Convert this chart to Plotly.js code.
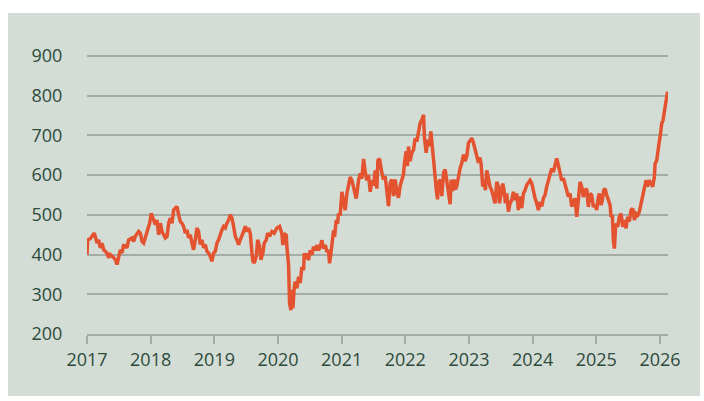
<!DOCTYPE html>
<html>
<head>
<meta charset="utf-8">
<script src="https://cdn.plot.ly/plotly-3.0.1.min.js"></script>
<style>
  html, body { margin: 0; padding: 0; background: #ffffff; }
  #chart { position: absolute; left: 8px; top: 13px; width: 692px; height: 383px; }
</style>
</head>
<body>
<div id="chart"></div>
<script>
// Decimal year of each observation
const years = [
2017.000,2017.010,2017.052,2017.079,2017.115,2017.157,2017.183,2017.209,2017.236,2017.262,
2017.314,2017.340,2017.366,2017.419,2017.445,2017.471,2017.497,2017.524,2017.550,2017.576,
2017.628,2017.654,2017.707,2017.733,2017.759,2017.812,2017.838,2017.864,2017.890,2017.942,
2017.984,2018.010,2018.047,2018.073,2018.099,2018.126,2018.152,2018.178,2018.204,2018.230,
2018.257,2018.283,2018.309,2018.335,2018.361,2018.414,2018.440,2018.466,
2018.491,2018.517,2018.544,2018.570,2018.596,2018.622,2018.648,2018.674,2018.701,2018.727,
2018.753,2018.779,2018.805,2018.832,2018.858,2018.884,2018.910,2018.936,2018.962,2018.989,
2019.015,2019.041,2019.067,2019.093,2019.119,2019.146,2019.172,2019.198,2019.224,2019.250,
2019.277,2019.303,2019.329,2019.355,2019.381,2019.407,2019.434,2019.460,2019.486,2019.512,
2019.538,2019.564,2019.591,2019.606,2019.627,2019.659,2019.680,2019.711,2019.732,2019.763,
2019.784,2019.816,2019.837,2019.868,2019.905,2019.941,2019.983,2020.025,
2020.061,2020.077,2020.098,2020.129,2020.140,2020.166,2020.182,2020.203,2020.218,2020.234,
2020.255,2020.271,2020.297,2020.323,2020.349,2020.375,2020.402,2020.412,2020.443,2020.464,
2020.480,2020.506,2020.532,2020.559,2020.585,2020.611,2020.637,2020.663,2020.689,2020.716,
2020.742,2020.768,2020.794,2020.810,2020.831,2020.846,2020.873,2020.888,2020.915,2020.936,
2020.951,2020.977,2021.004,2021.030,2021.056,2021.082,2021.108,2021.134,2021.161,2021.187,
2021.213,2021.229,2021.265,2021.292,2021.318,2021.344,2021.370,2021.396,2021.422,2021.449,
2021.475,2021.501,2021.527,2021.553,2021.569,2021.595,
2021.631,2021.657,2021.684,2021.710,2021.736,2021.762,2021.788,2021.814,2021.841,2021.867,
2021.893,2021.919,2021.945,2021.971,2021.987,2022.013,2022.034,2022.050,2022.076,2022.102,
2022.129,2022.155,2022.181,2022.207,2022.233,2022.259,2022.286,2022.301,2022.328,2022.354,
2022.380,2022.401,2022.427,2022.443,2022.458,2022.485,2022.506,2022.521,2022.547,2022.574,
2022.600,2022.626,2022.652,2022.678,2022.704,2022.720,2022.746,2022.767,2022.788,2022.809,
2022.835,2022.862,2022.888,2022.914,2022.940,2022.966,2022.992,2023.019,2023.045,2023.071,
2023.097,2023.123,2023.149,2023.170,
2023.190,2023.216,2023.237,2023.258,2023.279,2023.305,2023.331,2023.357,2023.383,2023.410,
2023.436,2023.462,2023.478,2023.499,2023.530,2023.551,2023.572,2023.593,2023.619,2023.645,
2023.671,2023.698,2023.724,2023.750,2023.776,2023.802,2023.828,2023.855,2023.881,2023.907,
2023.933,2023.959,2023.986,2024.012,2024.038,2024.064,2024.090,2024.116,2024.143,2024.169,
2024.195,2024.221,2024.247,2024.273,2024.300,2024.326,2024.352,2024.378,2024.404,2024.430,
2024.456,2024.483,2024.509,2024.535,2024.561,2024.587,2024.614,2024.640,2024.666,
2024.692,2024.718,2024.745,2024.771,2024.797,2024.823,2024.849,2024.875,2024.902,2024.928,
2024.954,2024.980,2025.006,2025.032,2025.048,2025.074,2025.095,2025.116,2025.137,2025.163,
2025.190,2025.216,2025.231,2025.252,2025.268,2025.284,2025.305,2025.336,2025.362,2025.389,
2025.415,2025.441,2025.467,2025.493,2025.519,2025.546,2025.572,2025.598,2025.624,2025.650,
2025.676,2025.703,2025.729,2025.755,2025.781,2025.807,2025.828,2025.860,2025.886,2025.912,
2025.923,2025.949,2025.964,2025.985,2026.006,2026.027,2026.048,2026.069,2026.088,2026.103,
2026.118,2026.126
];
const values = [
400,437,440,446,454,429,437,417,429,412,
404,392,400,392,387,375,396,412,404,425,
417,437,442,433,446,458,454,433,429,458,
479,504,487,475,487,450,479,458,450,442,
446,479,492,479,512,521,500,483,
479,471,454,462,442,450,429,412,437,467,
458,425,437,417,425,408,404,396,383,404,
408,429,437,454,462,471,467,479,487,500,
492,471,446,437,425,437,446,458,471,458,
467,454,404,383,379,396,437,421,387,404,
429,437,454,446,458,454,467,471,
453,424,453,449,420,374,277,260,311,265,
318,332,315,344,328,369,361,403,390,403,
386,411,399,420,411,424,411,420,436,415,
424,407,411,378,403,428,461,445,487,478,
503,499,558,533,512,554,574,595,587,570,
558,541,587,604,591,641,608,587,600,558,
587,574,612,566,637,641,
606,589,597,547,522,581,589,547,589,556,
543,573,589,602,631,660,623,672,635,656,
664,693,685,714,731,739,752,693,656,689,
673,710,673,639,614,564,539,581,589,547,
606,614,589,552,527,589,560,589,564,573,
597,618,631,652,635,648,681,689,693,681,
664,652,631,645,
629,571,587,562,612,592,571,562,542,529,
583,571,529,550,579,562,529,554,508,529,
537,558,537,554,512,546,517,554,562,575,
583,587,579,558,542,529,512,533,521,542,
550,571,587,604,617,608,629,642,625,600,
587,592,579,562,546,554,521,529,542,
495,545,583,571,545,562,566,520,554,550,
520,525,512,545,554,525,537,562,566,550,
537,525,495,499,436,415,478,470,495,503,
470,487,466,495,483,512,516,487,503,499,
508,529,541,571,587,571,587,579,571,596,
629,637,663,680,701,730,738,764,785,797,
810,800
];
const yTicks = [200, 300, 400, 500, 600, 700, 800, 900];
const xTicks = [2017, 2018, 2019, 2020, 2021, 2022, 2023, 2024, 2025, 2026];
const xTickLabels = ["2017","2018","2019","2020","2021","2022","2023","2024","2025","2026"];

const trace = {
  x: years, y: values, type: 'scatter', mode: 'lines',
  line: { color: '#e4532f', width: 3.5 },
  hoverinfo: 'skip'
};
const gridColor = '#a3ada5';
const textColor = '#2c4b3b';
const layout = {
  width: 692, height: 383,
  margin: { l: 79, r: 32, t: 41, b: 62 },
  paper_bgcolor: '#d4ddd5', plot_bgcolor: '#d4ddd5',
  showlegend: false,
  font: { family: '"Open Sans", "Noto Sans", sans-serif', size: 18, color: textColor },
  xaxis: {
    type: 'linear', range: [2017, 2026.126],
    tickmode: 'array', tickvals: xTicks, ticktext: xTickLabels,
    showgrid: false, zeroline: false,
    showline: true, linecolor: gridColor, linewidth: 2,
    ticks: 'outside', ticklen: 8, tickwidth: 2, tickcolor: gridColor,
    tickfont: { size: 18, color: textColor }
  },
  yaxis: {
    range: [200, 905],
    tickmode: 'array', tickvals: yTicks,
    showgrid: true, gridcolor: gridColor, gridwidth: 2,
    zeroline: false, showline: false,
    ticks: 'outside', ticklen: 20, tickcolor: 'rgba(0,0,0,0)',
    tickfont: { size: 18, color: textColor }
  }
};
Plotly.newPlot('chart', [trace], layout, { displayModeBar: false, staticPlot: true });
</script>
</body>
</html>
